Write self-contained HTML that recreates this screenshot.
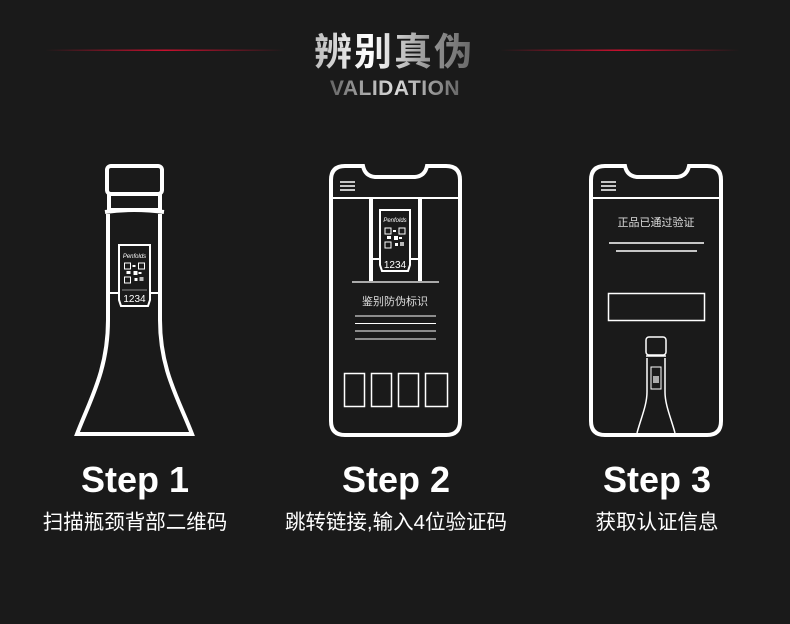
<!DOCTYPE html>
<html><head><meta charset="utf-8"><style>
html,body{margin:0;padding:0;background:#1a1a1a;}
svg{display:block}
text{font-family:"Liberation Sans","Noto Sans CJK SC",sans-serif;}
</style></head><body>
<svg width="790" height="624" viewBox="0 0 790 624" xmlns="http://www.w3.org/2000/svg">
<defs>
<linearGradient id="rl" x1="0" x2="1"><stop offset="0" stop-color="#c8102e" stop-opacity="0"/><stop offset="0.5" stop-color="#c8102e"/><stop offset="1" stop-color="#c8102e" stop-opacity="0"/></linearGradient>
<linearGradient id="tg" x1="0" x2="1"><stop offset="0" stop-color="#bbb"/><stop offset="0.35" stop-color="#fff"/><stop offset="0.7" stop-color="#999"/><stop offset="1" stop-color="#666"/></linearGradient>
<linearGradient id="vg" x1="0" x2="1"><stop offset="0" stop-color="#666"/><stop offset="0.5" stop-color="#ddd"/><stop offset="1" stop-color="#666"/></linearGradient>
<g id="qr">
<rect x="0" y="0" width="6" height="6" fill="none" stroke="#fff" stroke-width="1"/>
<rect x="14" y="0" width="6" height="6" fill="none" stroke="#fff" stroke-width="1"/>
<rect x="0" y="14" width="6" height="6" fill="none" stroke="#fff" stroke-width="1"/>
<rect x="8" y="2" width="3" height="2" fill="#fff"/><rect x="2" y="8" width="4" height="3" fill="#fff"/>
<rect x="9" y="8" width="4" height="4" fill="#fff"/><rect x="14" y="9" width="3" height="2" fill="#fff"/>
<rect x="10" y="15" width="3" height="3" fill="#fff"/><rect x="15" y="14" width="4" height="4" fill="#bbb"/>
</g>
</defs>
<rect width="790" height="624" fill="#1a1a1a"/>
<rect x="45" y="49.5" width="240" height="1.5" fill="url(#rl)"/>
<rect x="500" y="49.5" width="240" height="1.5" fill="url(#rl)"/>
<text x="394" y="65" text-anchor="middle" font-size="38" font-weight="600" fill="url(#tg)" letter-spacing="2">辨别真伪</text>
<text x="395" y="95" text-anchor="middle" font-size="21" font-weight="bold" fill="url(#vg)" letter-spacing="0.5">VALIDATION</text>

<!-- Bottle 1 -->
<g fill="none" stroke="#fff" stroke-width="4">
<rect x="107" y="166" width="55" height="28" rx="4"/>
<rect x="109" y="194" width="51" height="16"/>
<path d="M108 214 L108 320 C108 370 90 400 77 434 L192 434 C179 400 160 370 160 320 L160 214"/>
<path d="M105 212 Q134 208 164 212"/>
</g>
<line x1="108" y1="293" x2="160" y2="293" stroke="#fff" stroke-width="2"/>
<path d="M119 245 L150 245 L150 300 L148 306 L121 306 L119 300 Z" fill="#1a1a1a" stroke="#fff" stroke-width="2"/>
<text x="134.5" y="258" text-anchor="middle" font-size="6" fill="#fff" font-style="italic">Penfolds</text>
<use href="#qr" x="124.5" y="263"/>
<line x1="122" y1="290" x2="147" y2="290" stroke="#888" stroke-width="1"/>
<text x="134.5" y="302" text-anchor="middle" font-size="10" fill="#fff">1234</text>

<!-- Phone 2 -->
<g fill="none" stroke="#fff">
<path d="M345 166 L363 166 Q365 176 375 177 L415 177 Q425 176 427 166 L446 166 Q460 166 460 180 L460 421 Q460 435 446 435 L345 435 Q331 435 331 421 L331 180 Q331 166 345 166 Z" stroke-width="4"/>
<line x1="333" y1="198" x2="458" y2="198" stroke-width="2"/>
<line x1="340" y1="182" x2="355" y2="182" stroke-width="1.5"/>
<line x1="340" y1="186" x2="355" y2="186" stroke-width="1.5"/>
<line x1="340" y1="190" x2="355" y2="190" stroke-width="1.5"/>
<rect x="369" y="198" width="4" height="84" fill="#fff" stroke="none"/>
<rect x="418" y="198" width="4" height="84" fill="#fff" stroke="none"/>
<line x1="352" y1="282" x2="439" y2="282" stroke="#aaa" stroke-width="2"/>
<line x1="355" y1="316" x2="436" y2="316" stroke-width="1"/>
<line x1="355" y1="323.5" x2="436" y2="323.5" stroke-width="1"/>
<line x1="355" y1="331" x2="436" y2="331" stroke-width="1"/>
<line x1="355" y1="339" x2="436" y2="339" stroke-width="1"/>
<rect x="344.5" y="373.5" width="20" height="33" stroke-width="1.5"/>
<rect x="371.5" y="373.5" width="20" height="33" stroke-width="1.5"/>
<rect x="398.5" y="373.5" width="20" height="33" stroke-width="1.5"/>
<rect x="425.5" y="373.5" width="22" height="33" stroke-width="1.5"/>
</g>
<line x1="373" y1="259" x2="418" y2="259" stroke="#fff" stroke-width="2"/>
<path d="M380 210 L410 210 L410 265 L408 271 L382 271 L380 265 Z" fill="#1a1a1a" stroke="#fff" stroke-width="2"/>
<text x="395" y="222" text-anchor="middle" font-size="6" fill="#fff" font-style="italic">Penfolds</text>
<use href="#qr" x="385" y="228"/>
<text x="395" y="268" text-anchor="middle" font-size="10" fill="#fff">1234</text>
<text x="395" y="305" text-anchor="middle" font-size="11" fill="#ddd">鉴别防伪标识</text>

<!-- Phone 3 -->
<g fill="none" stroke="#fff">
<path d="M605 166 L625 166 Q627 176 637 177 L677 177 Q687 176 689 166 L707 166 Q721 166 721 180 L721 421 Q721 435 707 435 L605 435 Q591 435 591 421 L591 180 Q591 166 605 166 Z" stroke-width="4"/>
<line x1="593" y1="198" x2="719" y2="198" stroke-width="2"/>
<line x1="601" y1="182" x2="616" y2="182" stroke-width="1.5"/>
<line x1="601" y1="186" x2="616" y2="186" stroke-width="1.5"/>
<line x1="601" y1="190" x2="616" y2="190" stroke-width="1.5"/>
<line x1="609" y1="243" x2="704" y2="243" stroke-width="1.5"/>
<line x1="616" y1="251" x2="697" y2="251" stroke-width="1.5"/>
<rect x="608.5" y="293.5" width="96" height="27" stroke-width="1.5"/>
<rect x="646" y="337" width="20" height="18" rx="3" stroke-width="1.5"/>
<line x1="646" y1="356" x2="666" y2="356" stroke-width="1.5"/>
<path d="M647 358 L647 392 C647 405 641 418 637 433 M665 358 L665 392 C665 405 671 418 675 433" stroke-width="1.5"/>
<rect x="651" y="367" width="10" height="22" stroke-width="1"/>
</g>
<rect x="653" y="376" width="6" height="7" fill="#aaa"/>
<text x="656" y="226" text-anchor="middle" font-size="11" fill="#ddd">正品已通过验证</text>

<!-- Labels -->
<g font-weight="bold" font-size="36" fill="#fff" text-anchor="middle">
<text x="135" y="492">Step 1</text>
<text x="396" y="492">Step 2</text>
<text x="657" y="492">Step 3</text>
</g>
<g font-size="20.5" fill="#fff" text-anchor="middle">
<text x="135" y="529">扫描瓶颈背部二维码</text>
<text x="396" y="529">跳转链接,输入4位验证码</text>
<text x="657" y="529">获取认证信息</text>
</g>
</svg>
</body></html>
